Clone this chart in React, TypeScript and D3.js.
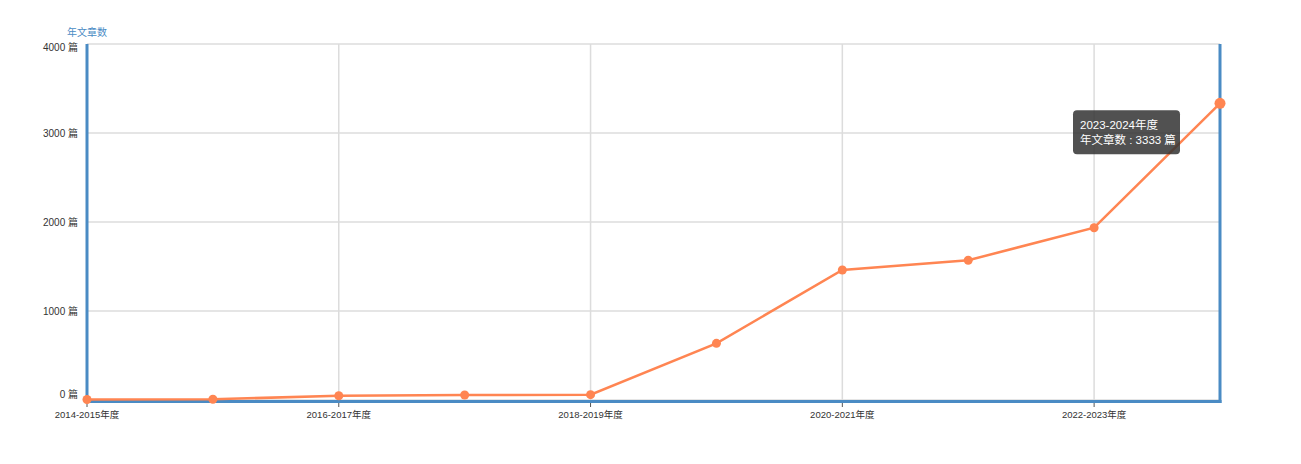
import React from "react";
import * as d3 from "d3";

const categories = [
  "2014-2015年度", "2015-2016年度", "2016-2017年度", "2017-2018年度", "2018-2019年度",
  "2019-2020年度", "2020-2021年度", "2021-2022年度", "2022-2023年度", "2023-2024年度",
];
const articleCounts = [5, 8, 48, 56, 60, 637, 1461, 1570, 1936, 3333];
const yTicks = [0, 1000, 2000, 3000, 4000];
const yAxisName = "年文章数";
const unit = "篇";

const W = 1301, H = 464;
const M = { left: 87, right: 81, top: 44, bottom: 63 };
const BLUE = "#4a8bc4";
const ORANGE = "#ff8552";
const GRID = "#dcdcdc";
const FONT = "Arial, 'Liberation Sans', 'Noto Sans CJK SC', sans-serif";

export default function App() {
  const x = d3.scalePoint<string>().domain(categories).range([M.left, W - M.right]);
  const y = d3.scaleLinear().domain([0, 4000]).range([H - M.bottom - 1, M.top]);
  const line = d3.line<number>().x((_, i) => x(categories[i])!).y((d) => y(d));
  const labeled = categories.filter((_, i) => i % 2 === 0);
  const x0 = M.left, x1 = W - M.right, yb = y(0), yt = y(4000);
  const last = categories.length - 1;
  const tipX = x(categories[last])! - 147, tipY = y(articleCounts[last]) + 7;

  return (
    <svg width={W} height={H} style={{ position: "absolute", left: 0, top: 0, fontFamily: FONT }}>
      <rect width={W} height={H} fill="#fff" />
      {yTicks.map((t) => (
        <line key={t} x1={x0} x2={x1} y1={y(t)} y2={y(t)} stroke={GRID} strokeWidth={1.5} />
      ))}
      {labeled.map((c) => (
        <line key={c} x1={x(c)} x2={x(c)} y1={yt} y2={yb} stroke={GRID} strokeWidth={1.5} />
      ))}
      {yTicks.map((t, i) => (
        <text key={t} x={78} y={y(t) + (i === 0 ? -2 : i === yTicks.length - 1 ? 7 : 3.5)}
          textAnchor="end" fontSize={10} fill="#333">{`${t} ${unit}`}</text>
      ))}
      <text x={67} y={36} fontSize={10} fill={BLUE}>{yAxisName}</text>
      {labeled.map((c) => (
        <g key={c}>
          <line x1={x(c)} x2={x(c)} y1={yb + 2} y2={yb + 7} stroke="#555" strokeWidth={1} />
          <text x={x(c)} y={yb + 18} textAnchor="middle" fontSize={9.5} fill="#333">{c}</text>
        </g>
      ))}
      <line x1={x0} x2={x1 + 1.5} y1={yb + 1.5} y2={yb + 1.5} stroke={BLUE} strokeWidth={3} />
      <line x1={x0} x2={x0} y1={yt} y2={yb + 3} stroke={BLUE} strokeWidth={3} />
      <line x1={x1} x2={x1} y1={yt} y2={yb + 3} stroke={BLUE} strokeWidth={3} />
      <path d={line(articleCounts)!} fill="none" stroke={ORANGE} strokeWidth={2.5} />
      {articleCounts.map((v, i) => (
        <circle key={i} cx={x(categories[i])} cy={y(v)} r={i === last ? 5.5 : 4.5} fill={ORANGE} />
      ))}
      <g transform={`translate(${tipX},${tipY})`}>
        <rect width={107} height={44} rx={4} fill="rgba(50,50,50,0.85)" />
        <text x={7} y={19} fontSize={11.5} fill="#fff">{categories[last]}</text>
        <text x={7} y={34} fontSize={11.5} fill="#fff">{`${yAxisName} : ${articleCounts[last]} ${unit}`}</text>
      </g>
    </svg>
  );
}
